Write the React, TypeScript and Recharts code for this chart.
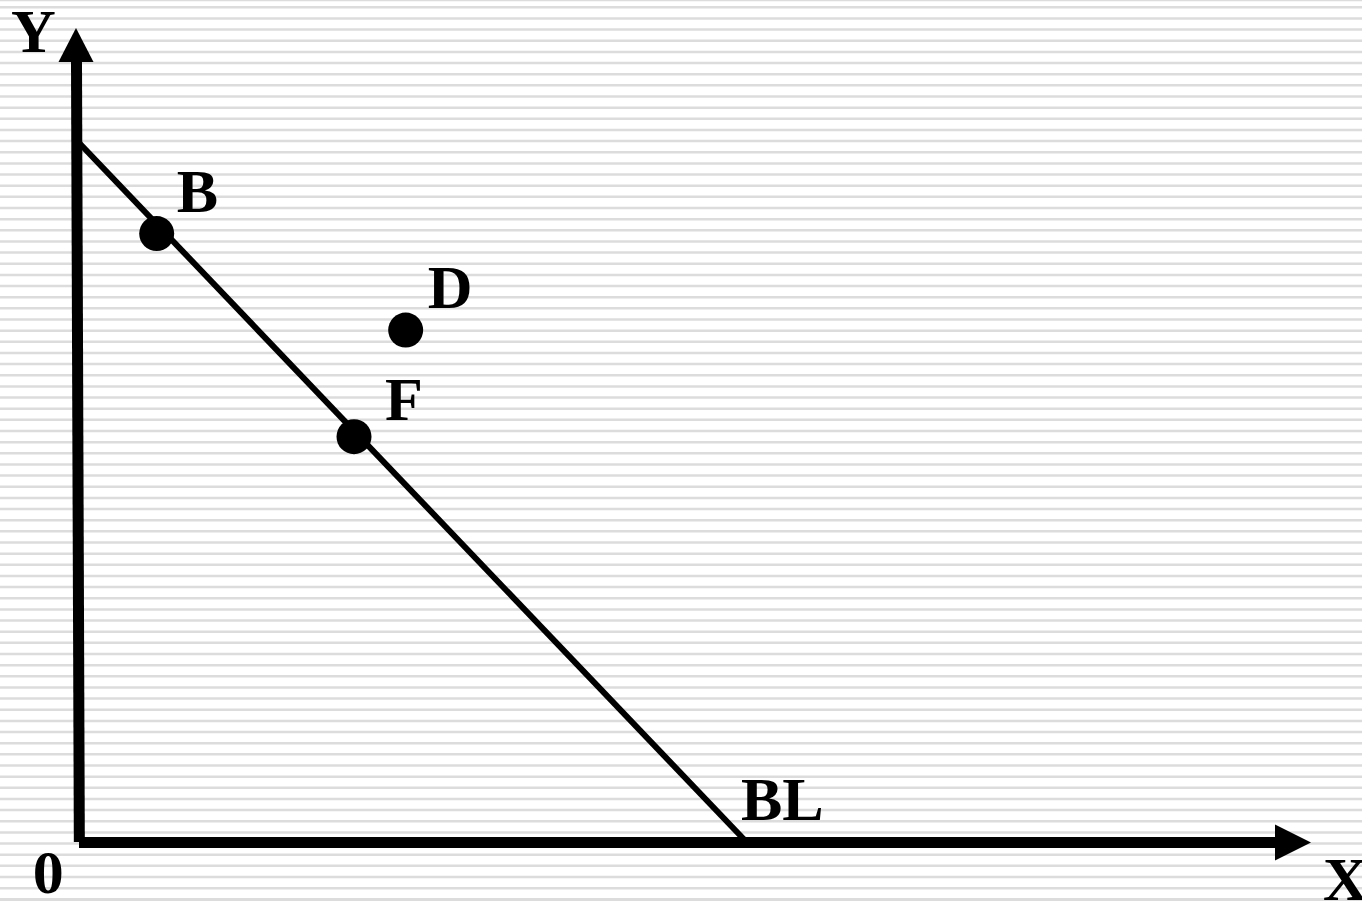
import React from 'react';
import { ScatterChart, Scatter, XAxis, YAxis, CartesianGrid, ReferenceLine } from 'recharts';

const W = 1362;
const H = 901;

// Data units: origin at the axes corner, budget line intercepts at 10 on each axis
const budgetLine = [
  { x: 0, y: 10 },
  { x: 10, y: 0 },
];

const points = [
  { name: 'B', x: 1.164, y: 8.7 },
  { name: 'D', x: 4.894, y: 7.32 },
  { name: 'F', x: 4.12, y: 5.796 },
];

const labels = [
  { text: 'B', x: 1.464, y: 9.013 },
  { text: 'D', x: 5.224, y: 7.636 },
  { text: 'F', x: 4.584, y: 6.035 },
  { text: 'BL', x: 9.918, y: 0.3146 },
  { text: 'Y', x: -1.019, y: 11.3 },
  { text: '0', x: -0.694, y: -0.729 },
  { text: 'X', x: 18.636, y: -0.829 },
];

const yAxisLine = [
  { x: -0.0375, y: 11.154 },
  { x: 0.005, y: 0 },
];
const xAxisLine = [
  { x: 0, y: -0.007 },
  { x: 17.918, y: -0.007 },
];
const arrowTips = [
  { dir: 'up', x: -0.045, y: 11.64 },
  { dir: 'right', x: 18.457, y: -0.007 },
];

const xDomain: [number, number] = [-1.1835, 19.221];
const yDomain: [number, number] = [-0.8437, 12.0406];

// background stripe positions (in y data units)
const stripeCount = 81;
const stripeTicks = Array.from({ length: stripeCount }, (_, k) => (842 - (7.3 + k * 11.15)) / 69.93);

const FONT = "'Liberation Serif', 'Times New Roman', serif";

const DotShape = (props: any) => <circle cx={props.cx} cy={props.cy} r={17.5} fill="#000" />;

const LabelShape = (props: any) => (
  <text x={props.cx} y={props.cy} fontFamily={FONT} fontWeight="bold" fontSize={62} fill="#000">
    {props.payload.text}
  </text>
);

const ArrowShape = (props: any) => {
  const { cx, cy, payload } = props;
  if (payload.dir === 'up') {
    return <polygon points={`${cx},${cy} ${cx - 17.5},${cy + 34} ${cx + 17.5},${cy + 34}`} fill="#000" />;
  }
  return <polygon points={`${cx},${cy} ${cx - 36},${cy - 18} ${cx - 36},${cy + 18}`} fill="#000" />;
};

export default function App() {
  return (
    <div style={{ position: 'absolute', left: 0, top: 0, width: W, height: H, background: '#fff' }}>
      <ScatterChart width={W} height={H} margin={{ top: 0, right: 0, bottom: 0, left: 0 }}>
        <XAxis type="number" dataKey="x" domain={xDomain} allowDataOverflow hide />
        <YAxis type="number" dataKey="y" domain={yDomain} allowDataOverflow hide ticks={stripeTicks} interval={0} />
        <CartesianGrid vertical={false} stroke="#dcdcdc" strokeWidth={2.5} />
        <ReferenceLine segment={yAxisLine} stroke="#000" strokeWidth={11} ifOverflow="visible" />
        <ReferenceLine segment={xAxisLine} stroke="#000" strokeWidth={11} ifOverflow="visible" />
        <ReferenceLine segment={budgetLine} stroke="#000" strokeWidth={6} ifOverflow="visible" />
        <Scatter data={arrowTips} shape={ArrowShape} isAnimationActive={false} />
        <Scatter data={points} shape={DotShape} isAnimationActive={false} />
        <Scatter data={labels} shape={LabelShape} isAnimationActive={false} />
      </ScatterChart>
    </div>
  );
}
